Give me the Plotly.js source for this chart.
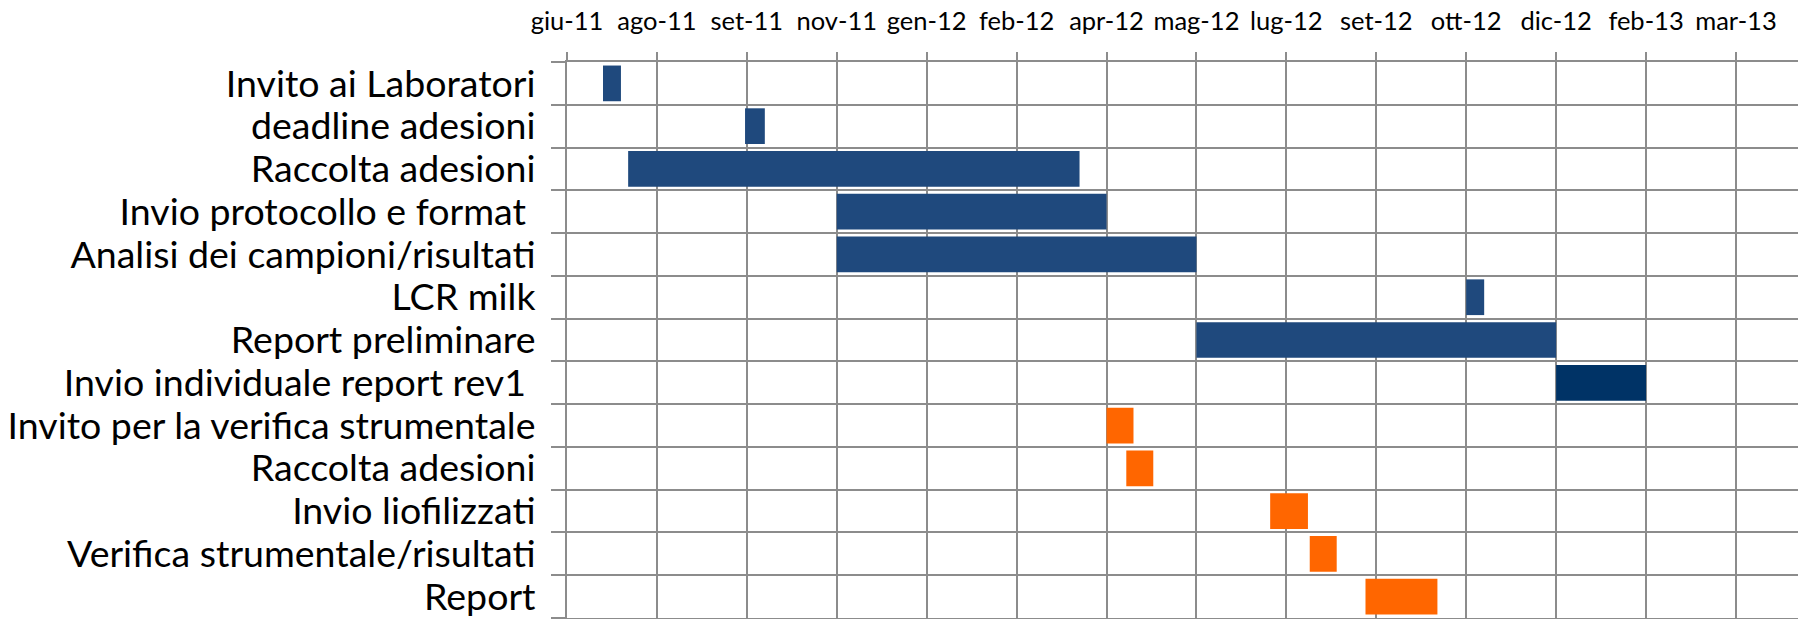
<!DOCTYPE html>
<html><head><meta charset="utf-8">
<script src="https://cdn.plot.ly/plotly-3.0.1.min.js"></script>
<style>html,body{margin:0;padding:0;background:#fff;} #chart{width:1804px;height:619px;}</style>
</head><body><div id="chart"></div>
<script>
// ---- data ----
const tasks = [
  'Invito ai Laboratori',
  'deadline adesioni',
  'Raccolta adesioni',
  'Invio protocollo e format\u00a0',
  'Analisi dei campioni/risultati',
  'LCR milk',
  'Report preliminare',
  'Invio individuale report rev1\u00a0',
  'Invito per la verifica strumentale',
  'Raccolta adesioni',
  'Invio liofilizzati',
  'Verifica strumentale/risultati',
  'Report'
];
const startDates = [
  '2011-07-05','2011-09-22','2011-07-19','2011-11-12','2011-11-12','2012-10-27','2012-05-30',
  '2012-12-16','2012-04-10','2012-04-21','2012-07-10','2012-08-01','2012-09-01'
];
const endDates = [
  '2011-07-15','2011-10-03','2012-03-26','2012-04-10','2012-05-30','2012-11-06','2012-12-16',
  '2013-02-04','2012-04-25','2012-05-06','2012-07-31','2012-08-16','2012-10-11'
];
const groups = ['fase1','fase1','fase1','fase1','fase1','fase1','fase1','rev1','fase2','fase2','fase2','fase2','fase2'];
const tickDates = ['2011-06-15','2011-08-04','2011-09-23','2011-11-12','2012-01-01','2012-02-20','2012-04-10',
  '2012-05-30','2012-07-19','2012-09-07','2012-10-27','2012-12-16','2013-02-04','2013-03-26'];
const tickLabels = ['giu-11','ago-11','set-11','nov-11','gen-12','feb-12','apr-12',
  'mag-12','lug-12','set-12','ott-12','dic-12','feb-13','mar-13'];
const axisStart = '2011-06-15';
const axisEnd = '2013-04-29 12:00';

// ---- style ----
const groupColors = {fase1:'#1F497D', rev1:'#003366', fase2:'#FF6600'};
const gridColor = '#8c8c8c';
const fontFam = 'Lato, "Liberation Sans", sans-serif';

const ms = d => new Date(d + 'T00:00:00Z').getTime();
const traces = Object.keys(groupColors).map(g => {
  const idx = groups.map((v,i)=> v===g ? i : -1).filter(i=>i>=0);
  return {
    type:'bar', orientation:'h',
    y: idx,
    base: idx.map(i=>startDates[i]),
    x: idx.map(i=>ms(endDates[i]) - ms(startDates[i])),
    marker:{color:groupColors[g], line:{width:0}},
    hoverinfo:'skip'
  };
});

const boundaries = [];
for (let i = 0; i <= tasks.length; i++) boundaries.push(i - 0.5);

const layout = {
  width:1804, height:619,
  margin:{l:567, r:6, t:62, b:1, pad:0},
  paper_bgcolor:'#fff', plot_bgcolor:'#fff',
  showlegend:false, barmode:'overlay', bargap:0.165,
  xaxis:{
    type:'date', side:'top', range:[axisStart, axisEnd],
    tickmode:'array', tickvals:tickDates, ticktext:tickLabels,
    ticks:'outside', ticklen:8, tickwidth:2, tickcolor:gridColor,
    showgrid:true, gridcolor:gridColor, gridwidth:2,
    showline:true, mirror:true, linecolor:gridColor, linewidth:2,
    zeroline:false,
    tickfont:{family:fontFam, size:25.5, color:'#000'},
    ticklabelstandoff:12
  },
  yaxis:{
    range:[tasks.length-0.5, -0.5],
    tickmode:'array', tickvals:tasks.map((_,i)=>i), ticktext:tasks,
    ticks:'', showgrid:false, zeroline:false,
    showline:true, linecolor:gridColor, linewidth:2,
    tickfont:{family:fontFam, size:37.5, color:'#000'},
    ticklabelstandoff:22,
    minor:{tickmode:'array', tickvals:boundaries, ticks:'outside', ticklen:14, tickwidth:2,
      tickcolor:gridColor, showgrid:true, gridcolor:gridColor, gridwidth:2}
  }
};
Plotly.newPlot('chart', traces, layout, {displayModeBar:false, staticPlot:true});
</script></body></html>
